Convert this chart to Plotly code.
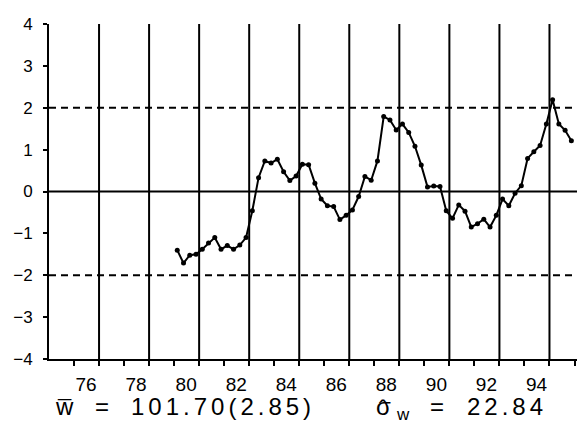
import plotly.graph_objects as go

# quarterly observations (decimal years)
years = [79.125, 79.375, 79.625, 79.875, 80.125, 80.375, 80.625, 80.875,
         81.125, 81.375, 81.625, 81.875, 82.125, 82.375, 82.625, 82.875,
         83.125, 83.375, 83.625, 83.875, 84.125, 84.375, 84.625, 84.875,
         85.125, 85.375, 85.625, 85.875, 86.125, 86.375, 86.625, 86.875,
         87.125, 87.375, 87.625, 87.875, 88.125, 88.375, 88.625, 88.875,
         89.125, 89.375, 89.625, 89.875, 90.125, 90.375, 90.625, 90.875,
         91.125, 91.375, 91.625, 91.875, 92.125, 92.375, 92.625, 92.875,
         93.125, 93.375, 93.625, 93.875, 94.125, 94.375, 94.625, 94.875]
values = [-1.40, -1.71, -1.52, -1.50, -1.38, -1.23, -1.10, -1.38,
          -1.29, -1.38, -1.28, -1.10, -0.46, 0.33, 0.73, 0.68,
          0.77, 0.47, 0.26, 0.37, 0.65, 0.64, 0.20, -0.18,
          -0.34, -0.36, -0.67, -0.57, -0.44, -0.12, 0.36, 0.27,
          0.73, 1.79, 1.71, 1.47, 1.61, 1.41, 1.08, 0.63,
          0.11, 0.13, 0.12, -0.46, -0.64, -0.32, -0.47, -0.85,
          -0.77, -0.66, -0.85, -0.57, -0.18, -0.34, -0.04, 0.14,
          0.79, 0.95, 1.10, 1.61, 2.19, 1.61, 1.46, 1.21]

tick_years = [75, 76, 77, 78, 79, 80, 81, 82, 83, 84, 85, 86, 87, 88, 89, 90, 91, 92, 93, 94, 95]
labelled_years = [76, 78, 80, 82, 84, 86, 88, 90, 92, 94]
y_ticks = [-4, -3, -2, -1, 0, 1, 2, 3, 4]
dashed_levels = [-2, 2]
solid_levels = [0]
vertical_years = labelled_years

mean_text = "101.70(2.85)"
sd_text = "22.84"

x_range = [74, 95.1]
y_range = [-4, 4]

fig = go.Figure()
fig.add_trace(go.Scatter(
    x=years, y=values, mode="lines+markers",
    line=dict(color="black", width=2),
    marker=dict(color="black", size=5),
    showlegend=False, hoverinfo="skip"))

for v in vertical_years:
    fig.add_vline(x=v, line=dict(color="black", width=2), layer="below")
for h in dashed_levels:
    fig.add_hline(y=h, line=dict(color="black", width=2, dash="7px,5px"), layer="below")
for h in solid_levels:
    fig.add_hline(y=h, line=dict(color="black", width=2), layer="below")

ticktext = [str(t) if t in labelled_years else "" for t in tick_years]

FAM = "Liberation Sans, Arial, sans-serif"
fig.update_layout(
    width=577, height=424,
    margin=dict(l=49, r=0, t=24, b=65),
    paper_bgcolor="white", plot_bgcolor="white",
    font=dict(family=FAM, color="black"),
    xaxis=dict(range=x_range, tickmode="array", tickvals=tick_years, ticktext=ticktext,
               ticks="outside", ticklen=5, tickwidth=1.5, tickcolor="black",
               showline=True, linecolor="black", linewidth=2,
               showgrid=False, zeroline=False,
               tickfont=dict(size=19), ticklabelshift=-13, ticklabelstandoff=2),
    yaxis=dict(range=y_range, tickmode="array", tickvals=y_ticks,
               ticks="outside", ticklen=4, tickwidth=1.5, tickcolor="black",
               showline=True, linecolor="black", linewidth=2,
               showgrid=False, zeroline=False,
               tickfont=dict(size=17), ticklabelstandoff=7),
)

def px(xp):
    return (xp - 49) / 528.0

def py(yp):
    return (359 - yp) / 335.0

ann_y = py(406)
font = dict(family=FAM, size=24, color="black")
sp = '<span style="letter-spacing:4px">%s</span>'

def ann(x, y, text, f=font):
    fig.add_annotation(xref="paper", yref="paper", x=x, y=y, text=text,
                       showarrow=False, font=f, xanchor="center", yanchor="middle")

ann(px(64), ann_y, "w")
ann(px(64), py(408), "\u00af")
ann(px(102), ann_y, "=")
ann(px(223), ann_y, sp % mean_text)
ann(px(383), ann_y, "\u03c3")
ann(px(383), py(408), "\u02c6")
ann(px(403), py(414), "w", dict(family=FAM, size=17, color="black"))
ann(px(437), ann_y, "=")
ann(px(507), ann_y, sp % sd_text)

fig.write_html("out.html", config={"displayModeBar": False},
               post_script="document.body.style.margin='0';document.body.style.padding='0';")
